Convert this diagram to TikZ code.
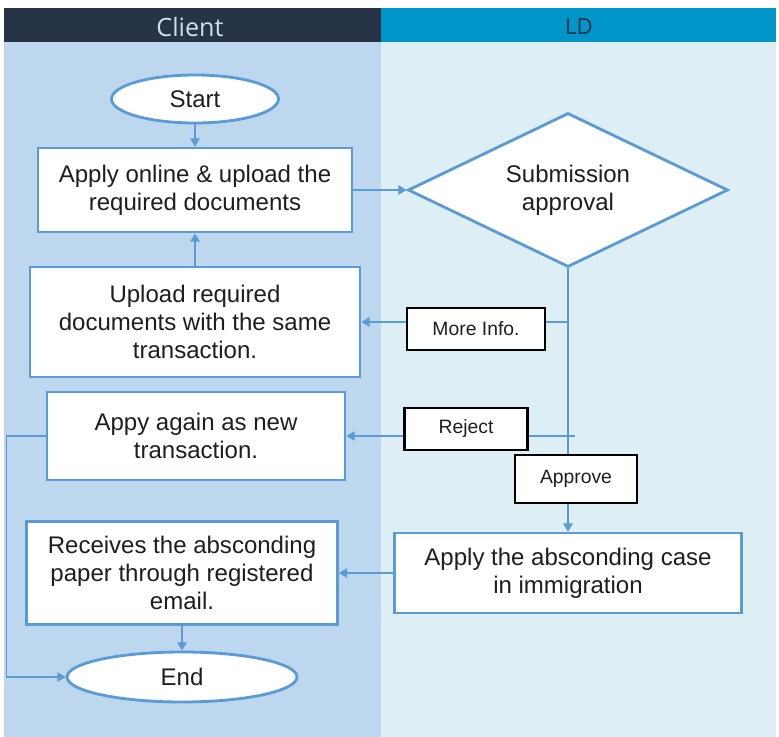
\documentclass[tikz,border=0pt]{standalone}
\usepackage{fontspec}
\setmainfont{Liberation Sans}
\newfontfamily\headfont{Open Sans}
\usepackage{tikz}
\usetikzlibrary{shapes.geometric, arrows.meta, positioning}
\definecolor{ClientDark}{HTML}{263445}
\definecolor{LDBlue}{HTML}{0095C9}
\definecolor{ClientLane}{HTML}{BDD7EE}
\definecolor{LDLane}{HTML}{DDEEF5}
\definecolor{FlowBlue}{HTML}{5B9BD5}
\definecolor{TextGrey}{HTML}{1E1E1E}
\tikzset{
  % Box styles
  stepbox/.style={rectangle, draw=FlowBlue, line width=2.4pt, fill=white, text=TextGrey, align=center, font=\fontsize{20.5}{24}\selectfont},
  termbox/.style={ellipse, draw=FlowBlue, line width=2.4pt, fill=white, text=TextGrey, font=\fontsize{20.5}{24}\selectfont},
  decisionbox/.style={diamond, aspect=2, draw=FlowBlue, line width=2.4pt, fill=white, text=TextGrey, align=center, inner sep=0pt, font=\fontsize{20.5}{24}\selectfont},
  labelbox/.style={rectangle, draw=black, line width=2.4pt, fill=white, text=TextGrey, inner sep=0pt, font=\fontsize{16.5}{19}\selectfont},
  % Arrow styles
  flow/.style={-{Triangle[length=7pt,width=8pt]}, draw=FlowBlue, line width=1.4pt}
}
\begin{document}
\begin{tikzpicture}[x=0.03cm, y=-0.03cm]
  \useasboundingbox[fill=white] (0,0) rectangle (779,737);

  % Lanes
  \fill[ClientLane] (4,42) rectangle (381,737);
  \fill[LDLane] (381,42) rectangle (776,737);
  \fill[ClientDark] (4,8) rectangle (381,42);
  \fill[LDBlue] (381,8) rectangle (776,42);
  \node[text=ClientLane!80!white, font=\headfont\fontsize{21.5}{24}\selectfont] (clienthead) at (190,27) {Client};
  \node[text=ClientDark, font=\headfont\fontsize{19}{22}\selectfont] (ldhead) at (579,27) {LD};

  % Client steps
  \node[termbox, minimum width=5.01cm, minimum height=1.44cm] (start) at (195,99) {Start};
  \node[stepbox, minimum width=9.42cm, minimum height=2.52cm] (apply) at (195,190) {Apply online \& upload the\\required documents};
  \node[stepbox, minimum width=9.9cm, minimum height=3.3cm] (upload) at (195,322) {Upload required\\documents with the same\\transaction.};
  \node[stepbox, minimum width=8.94cm, minimum height=2.64cm] (again) at (196,436) {Appy again as new\\transaction.};
  \node[stepbox, minimum width=9.33cm, minimum height=3.09cm] (receive) at (182,573) {Receives the absconding\\paper through registered\\email.};
  \node[termbox, minimum width=6.9cm, minimum height=1.5cm] (end) at (182,677) {End};

  % LD steps
  \node[decisionbox, minimum width=9.6cm, minimum height=4.62cm] (approval) at (568,190) {Submission\\approval};
  \node[stepbox, minimum width=10.41cm, minimum height=2.4cm] (absconding) at (568,573) {Apply the absconding case\\in immigration};

  % Connectors
  \draw[flow] (start) -- (apply);
  \draw[flow] (apply) -- (approval);
  \draw[flow] (approval.south) -- (absconding.north);
  \draw[flow] (approval.south |- upload.east) -- (upload.east);
  \draw[flow] ([xshift=0.21cm]approval.south |- again.east) -- (again.east);
  \draw[flow] (upload) -- (apply);
  \draw[flow] (again.west) -- ++(-1.17cm,0) |- (end.west);
  \draw[flow] (absconding) -- (receive);
  \draw[flow] (receive) -- (end);

  % Decision labels
  \node[labelbox, minimum width=4.14cm, minimum height=1.26cm] (moreinfo) at (476,329) {More Info.};
  \node[labelbox, minimum width=3.69cm, minimum height=1.26cm] (reject) at (466,429) {Reject};
  \node[labelbox, minimum width=3.66cm, minimum height=1.44cm] (approve) at (576,479) {Approve};
\end{tikzpicture}
\end{document}
